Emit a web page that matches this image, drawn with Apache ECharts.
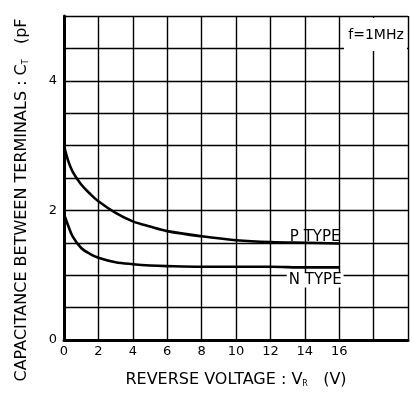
<!DOCTYPE html>
<html>
<head>
<meta charset="utf-8">
<script src="https://cdn.jsdelivr.net/npm/echarts@6/dist/echarts.min.js"></script>
<style>
  html, body { margin: 0; padding: 0; background: #fff; }
  #chart { width: 412px; height: 393px; }
</style>
</head>
<body>
<div id="chart"></div>
<script>
// reverse voltage (V) -> capacitance (pF)
const pTypeVolts = [0, 0.25, 0.5, 1, 1.5, 2, 3, 4, 5, 6, 8, 10, 12, 14, 16]
const pTypeCap = [3.0, 2.76, 2.6, 2.4, 2.26, 2.14, 1.96, 1.83, 1.75, 1.68, 1.6, 1.54, 1.51, 1.5, 1.49]
const nTypeVolts = [0, 0.25, 0.5, 1, 1.5, 2, 3, 4, 5, 6, 8, 10, 12, 14, 16]
const nTypeCap = [1.94, 1.76, 1.6, 1.42, 1.33, 1.27, 1.2, 1.17, 1.15, 1.14, 1.13, 1.13, 1.13, 1.12, 1.12]
const xLabels = ['0', '2', '4', '6', '8', '10', '12', '14', '16']
const yLabels = ['0', '2', '4']

const font = 'DejaVu Sans, Liberation Sans, sans-serif'

function zip (xs, ys) {
  return xs.map((x, i) => [x, ys[i]])
}

function curve (name, xs, ys, labelOffset, labelPos) {
  const data = zip(xs, ys)
  const last = data.length - 1
  return {
    name: name,
    type: 'line',
    smooth: 0.35,
    showSymbol: true,
    symbolSize: 0,
    lineStyle: { color: '#000', width: 2.6 },
    itemStyle: { color: '#000' },
    data: data.map((d, i) => {
      if (i !== last) return d
      return {
        value: d,
        label: {
          show: true,
          formatter: name,
          position: labelPos,
          offset: labelOffset,
          color: '#000',
          fontFamily: font,
          fontSize: 15,
          backgroundColor: labelPos === 'bottom' ? '#fff' : 'transparent',
          padding: [0, 2]
        }
      }
    })
  }
}

const chart = echarts.init(document.getElementById('chart'))
chart.setOption({
  backgroundColor: '#fff',
  animation: false,
  grid: { left: 64, right: 4, top: 16, bottom: 51 },
  xAxis: {
    type: 'value',
    min: 0,
    max: 20,
    interval: 2,
    name: 'REVERSE VOLTAGE : V{sub|R}   (V)',
    nameLocation: 'middle',
    nameGap: 32,
    nameTextStyle: {
      color: '#000',
      fontFamily: font,
      fontSize: 16,
      rich: { sub: { fontSize: 8, verticalAlign: 'bottom', padding: [7, 0, 0, 0] } }
    },
    axisLine: { onZero: false, lineStyle: { color: '#000', width: 3 } },
    axisTick: { show: false },
    axisLabel: {
      color: '#000',
      fontFamily: font,
      fontSize: 13,
      margin: 5,
      formatter: v => xLabels.includes(String(v)) ? String(v) : ''
    },
    splitLine: { lineStyle: { color: '#000', width: 1.4 } }
  },
  yAxis: {
    type: 'value',
    min: 0,
    max: 5,
    interval: 0.5,
    name: 'CAPACITANCE BETWEEN TERMINALS : C{sub|T}   (pF',
    nameLocation: 'middle',
    nameRotate: 90,
    nameGap: 34,
    nameTextStyle: {
      color: '#000',
      fontFamily: font,
      fontSize: 16,
      padding: [0, 44, 0, 0],
      rich: { sub: { fontSize: 8, verticalAlign: 'bottom', padding: [7, 0, 0, 0] } }
    },
    axisLine: { onZero: false, lineStyle: { color: '#000', width: 3 } },
    axisTick: { show: false },
    axisLabel: {
      color: '#000',
      fontFamily: font,
      fontSize: 13,
      margin: 7,
      formatter: v => yLabels.includes(String(v)) ? String(v) : ''
    },
    splitLine: { lineStyle: { color: '#000', width: 1.4 } }
  },
  graphic: [{
    type: 'rect',
    shape: { x: 344, y: 18, width: 63, height: 33 },
    style: { fill: '#fff' },
    z: 10
  }, {
    type: 'text',
    x: 376,
    y: 35,
    style: {
      text: 'f=1MHz',
      fill: '#000',
      font: '14px ' + font,
      align: 'center',
      verticalAlign: 'middle'
    },
    z: 11
  }],
  series: [
    curve('P TYPE', pTypeVolts, pTypeCap, [-24, 6], 'top'),
    curve('N TYPE', nTypeVolts, nTypeCap, [-24, 0], 'bottom')
  ]
})
</script>
</body>
</html>
